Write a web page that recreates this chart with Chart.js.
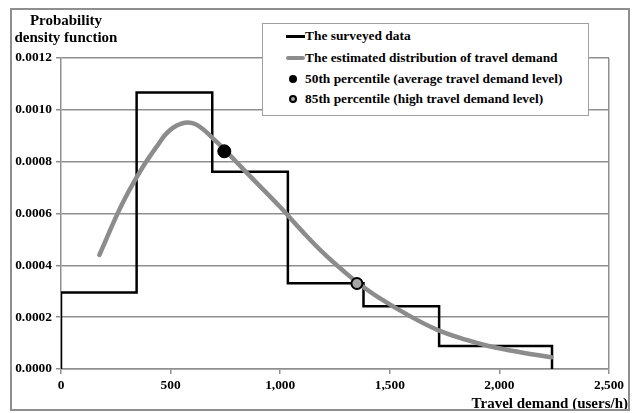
<!DOCTYPE html>
<html>
<head>
<meta charset="utf-8">
<script src="https://cdn.jsdelivr.net/npm/chart.js@4/dist/chart.umd.min.js"></script>
<style>
  html, body { margin: 0; padding: 0; background: #fff; }
  #wrap { position: relative; width: 635px; height: 413px; overflow: hidden; font-family: "Liberation Serif", "Times New Roman", serif; font-weight: bold; color: #000; }
  #c { position: absolute; left: 0; top: 0; }
  .frame { position: absolute; left: 10px; top: 8px; width: 620px; height: 403px; border: 2px solid #8f8f8f; box-sizing: border-box; pointer-events: none; }
  .ytitle { position: absolute; left: 6px; width: 120px; text-align: center; font-size: 15px; line-height: 17px; top: 12px; }
  .xtitle { position: absolute; right: 7px; top: 394px; font-size: 15px; line-height: 18px; white-space: nowrap; }
  .legend { position: absolute; left: 262px; top: 23px; width: 327px; height: 93px; border: 1.5px solid #a0a0a0; background: #fff; box-sizing: border-box; font-size: 13.4px; }
  .row { position: absolute; left: 0; height: 18px; line-height: 18px; white-space: nowrap; }
  .row .txt { position: absolute; left: 42px; top: 0; }
  .sw { position: absolute; }
</style>
</head>
<body>
<div id="wrap">
  <canvas id="c" width="635" height="413"></canvas>
  <div class="ytitle">Probability<br>density function</div>
  <div class="xtitle">Travel demand (users/h)</div>
  <div class="legend" id="legend"></div>
  <div class="frame"></div>
</div>
<script>
// ---- data ----
const binEdges   = [0, 345, 690, 1035, 1380, 1725, 2240];
const binDensity = [0.000295, 0.001067, 0.000761, 0.000331, 0.000242, 0.000089];

const curveX = [175, 275, 359, 434, 495, 564, 620, 708, 770, 850, 1000, 1100, 1200, 1300, 1350, 1450, 1590, 1720, 1850, 1955, 2100, 2237];
const curveY = [0.00044, 0.00063, 0.00076, 0.000855, 0.00092, 0.00095, 0.000942, 0.000878, 0.000825, 0.000755, 0.000625, 0.000532, 0.000445, 0.00037, 0.000335, 0.000275, 0.000205, 0.00015, 0.000112, 0.000088, 0.000064, 0.000045];

const p50 = { x: 745, y: 0.00084 };
const p85 = { x: 1350, y: 0.00033 };

const xTicks = [0, 500, 1000, 1500, 2000, 2500];
const yTicks = [0, 0.0002, 0.0004, 0.0006, 0.0008, 0.0010, 0.0012];

const seriesLabels = [
  "The surveyed data",
  "The estimated distribution of travel demand",
  "50th percentile (average travel demand level)",
  "85th percentile (high travel demand level)"
];

// ---- build datasets ----
const stepPts = [{ x: binEdges[0], y: 0 }];
for (let i = 0; i < binDensity.length; i++) {
  stepPts.push({ x: binEdges[i], y: binDensity[i] });
  stepPts.push({ x: binEdges[i + 1], y: binDensity[i] });
}
stepPts.push({ x: binEdges[binEdges.length - 1], y: 0 });

const curvePts = curveX.map((x, i) => ({ x: x, y: curveY[i] }));

const GRID = '#8f8f8f';
const FONT = { family: '"Liberation Serif", "Times New Roman", serif', size: 13.4, weight: 'bold' };

new Chart(document.getElementById('c'), {
  type: 'scatter',
  data: {
    datasets: [
      { label: seriesLabels[0], data: stepPts, showLine: true, borderColor: '#000', borderWidth: 2.5, pointRadius: 0, tension: 0, order: 3 },
      { label: seriesLabels[1], data: curvePts, showLine: true, borderColor: '#8c8c8c', borderWidth: 4.5, pointRadius: 0, tension: 0.4, borderCapStyle: 'round', order: 2 },
      { label: seriesLabels[2], data: [p50], pointRadius: 6.5, backgroundColor: '#000', borderColor: '#000', borderWidth: 1, order: 1 },
      { label: seriesLabels[3], data: [p85], pointRadius: 5.5, backgroundColor: '#a6a6a6', borderColor: '#000', borderWidth: 2, order: 0 }
    ]
  },
  options: {
    responsive: false,
    animation: false,
    devicePixelRatio: 1,
    layout: { padding: { left: 0, right: 26, top: 58, bottom: 0 } },
    plugins: { legend: { display: false }, tooltip: { enabled: false }, title: { display: false } },
    scales: {
      x: {
        type: 'linear', min: 0, max: 2500,
        afterBuildTicks: (s) => { s.ticks = xTicks.map(v => ({ value: v })); },
        afterFit: (s) => { s.height = 44; },
        ticks: { color: '#000', font: FONT, padding: 4, maxRotation: 0,
                 callback: (v) => v.toLocaleString('en-US') },
        grid: { color: (ctx) => (ctx.tick && ctx.tick.value === 2500) ? GRID : 'rgba(0,0,0,0)',
                tickColor: GRID, tickLength: 5, lineWidth: 1.5 },
        border: { color: GRID, width: 1.5 }
      },
      y: {
        type: 'linear', min: 0, max: 0.0012,
        afterBuildTicks: (s) => { s.ticks = yTicks.map(v => ({ value: v })); },
        afterFit: (s) => { s.width = 61; },
        ticks: { color: '#000', font: FONT, padding: 4, callback: (v) => v.toFixed(4) },
        grid: { color: GRID, tickColor: GRID, tickLength: 5, lineWidth: 1.5 },
        border: { color: GRID, width: 1.5 }
      }
    }
  }
});

// ---- HTML legend built from the series labels ----
const legend = document.getElementById('legend');
const rowTops = [3, 25, 46, 66];
const swatches = [
  '<div class="sw" style="left:23px;top:8px;width:19px;height:2.5px;background:#000"></div>',
  '<div class="sw" style="left:23px;top:7px;width:19px;height:4px;background:#8c8c8c;border-radius:2px"></div>',
  '<div class="sw" style="left:26px;top:5px;width:8px;height:8px;border-radius:50%;background:#000"></div>',
  '<div class="sw" style="left:26px;top:5px;width:8px;height:8px;border-radius:50%;background:#a6a6a6;border:2px solid #000;box-sizing:border-box"></div>'
];
seriesLabels.forEach((lab, i) => {
  const r = document.createElement('div');
  r.className = 'row';
  r.style.top = rowTops[i] + 'px';
  r.innerHTML = swatches[i] + '<span class="txt"></span>';
  r.querySelector('.txt').textContent = lab;
  legend.appendChild(r);
});
</script>
</body>
</html>
